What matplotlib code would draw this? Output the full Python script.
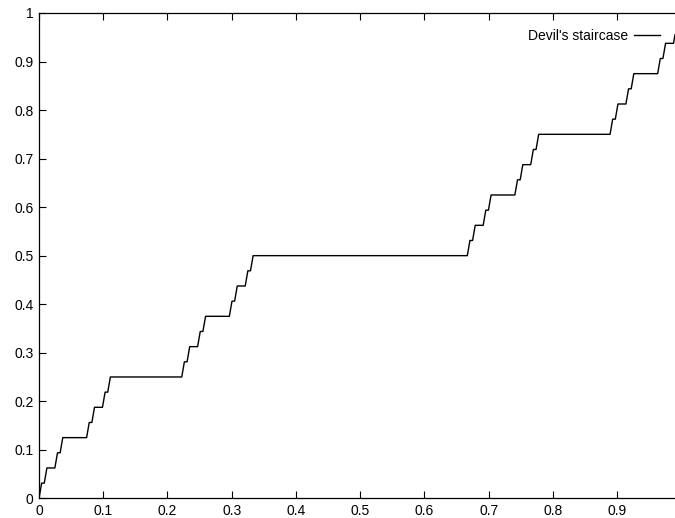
import matplotlib
matplotlib.use("Agg")
import matplotlib.pyplot as plt
import numpy as np

# Each riser of the staircase: bottom (x_lo, y_lo) to top (x_hi, y_hi);
# the plateaus are the flat joins between consecutive risers.
x_lo = [0.0000, 0.0082, 0.0247, 0.0329, 0.0741, 0.0823, 0.0988, 0.1070,
        0.2222, 0.2305, 0.2469, 0.2551, 0.2963, 0.3045, 0.3210, 0.3292,
        0.6667, 0.6749, 0.6914, 0.6996, 0.7407, 0.7490, 0.7654, 0.7737,
        0.8889, 0.8971, 0.9136, 0.9218, 0.9630, 0.9712, 0.9877]
x_hi = [0.0041, 0.0123, 0.0288, 0.0370, 0.0782, 0.0864, 0.1029, 0.1111,
        0.2263, 0.2346, 0.2510, 0.2593, 0.3004, 0.3086, 0.3251, 0.3333,
        0.6708, 0.6790, 0.6955, 0.7037, 0.7449, 0.7531, 0.7695, 0.7778,
        0.8930, 0.9012, 0.9177, 0.9259, 0.9671, 0.9753, 0.9900]
y_lo = [0.00000, 0.03125, 0.06250, 0.09375, 0.12500, 0.15625, 0.18750, 0.21875,
        0.25000, 0.28125, 0.31250, 0.34375, 0.37500, 0.40625, 0.43750, 0.46875,
        0.50000, 0.53125, 0.56250, 0.59375, 0.62500, 0.65625, 0.68750, 0.71875,
        0.75000, 0.78125, 0.81250, 0.84375, 0.87500, 0.90625, 0.93750]
y_hi = [0.03125, 0.06250, 0.09375, 0.12500, 0.15625, 0.18750, 0.21875, 0.25000,
        0.28125, 0.31250, 0.34375, 0.37500, 0.40625, 0.43750, 0.46875, 0.50000,
        0.53125, 0.56250, 0.59375, 0.62500, 0.65625, 0.68750, 0.71875, 0.75000,
        0.78125, 0.81250, 0.84375, 0.87500, 0.90625, 0.93750, 0.95500]

x_ticks = [0, 0.1, 0.2, 0.3, 0.4, 0.5, 0.6, 0.7, 0.8, 0.9]
y_ticks = [0, 0.1, 0.2, 0.3, 0.4, 0.5, 0.6, 0.7, 0.8, 0.9, 1]

xs = np.column_stack([x_lo, x_hi]).ravel()
ys = np.column_stack([y_lo, y_hi]).ravel()

plt.rcParams["font.family"] = ["Liberation Sans", "DejaVu Sans"]

fig = plt.figure(figsize=(6.75, 5.18), dpi=100)
ax = fig.add_axes([39 / 675, 19.7 / 518, 636 / 675, 485.3 / 518])
ax.plot(xs, ys, color="black", lw=1.0, label="Devil's staircase")

ax.set_xlim(0, 0.99)
ax.set_ylim(0, 1)
ax.set_xticks(x_ticks)
ax.set_xticklabels([f"{v:g}" for v in x_ticks])
ax.set_yticks(y_ticks)
ax.set_yticklabels([f"{v:g}" for v in y_ticks])
ax.tick_params(direction="in", length=5, width=0.8, labelsize=10,
               top=True, right=False, pad=4, color="black")
ax.spines["right"].set_visible(False)
for s in ("left", "bottom", "top"):
    ax.spines[s].set_linewidth(0.9)

ax.legend(loc="upper right", bbox_to_anchor=(0.99, 0.985), frameon=False,
          markerfirst=False, handlelength=1.9, handletextpad=0.45, fontsize=10,
          borderaxespad=0.2)

fig.savefig("out.png", dpi=100)
